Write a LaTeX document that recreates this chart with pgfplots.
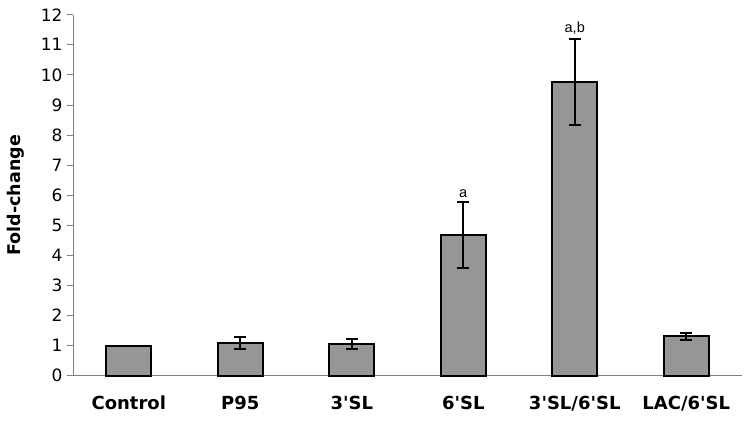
\documentclass[border=0pt]{standalone}
\usepackage{pgfplots}
\pgfplotsset{compat=1.18}
\usepackage{fontspec}
\setmainfont{DejaVu Sans}
\newfontfamily\arialfont{Liberation Sans}
\definecolor{barfill}{RGB}{150,150,150}
\definecolor{axgray}{RGB}{128,128,128}

\begin{document}
\begin{tikzpicture}
\useasboundingbox (-73pt,-47.3pt) rectangle (676pt,375.7pt);
\begin{axis}[
    scale only axis,
    width=669pt, height=361pt,
    xmin=-0.5, xmax=5.5,
    ymin=0, ymax=12,
    axis lines*=left,
    axis line style={axgray, line width=0.8pt},
    xtick={0,1,2,3,4,5},
    xticklabels={Control, P95, 3\textquotesingle SL, 6\textquotesingle SL, 3\textquotesingle SL/6\textquotesingle SL, LAC/6\textquotesingle SL},
    x tick style={draw=none},
    minor xtick={-0.5,0.5,1.5,2.5,3.5,4.5,5.5},
    minor x tick style={axgray, line width=0.8pt},
    minor tick length=6pt,
    ytick={0,1,2,3,4,5,6,7,8,9,10,11,12},
    y tick style={axgray, line width=0.8pt},
    tick align=outside,
    major tick length=6pt,
    /pgf/number format/assume math mode=true,
    yticklabel style={font=\fontsize{17}{17}\selectfont, xshift=-1pt},
    xticklabel style={font=\bfseries\fontsize{18}{18}\selectfont, yshift=-11pt},
    ylabel={Fold-change},
    ylabel style={font=\bfseries\fontsize{17.5}{17.5}\selectfont, at={(axis description cs:-0.0852,0.5)}, anchor=center},
    clip=false,
]
\addplot[ybar, bar width=0.4, fill=barfill, draw=black, line width=2pt]
    coordinates {(0,1.0) (1,1.1) (2,1.05) (3,4.67) (4,9.76) (5,1.31)};

\addplot[draw=none, mark=none,
    error bars/.cd, y dir=both, y explicit,
    error bar style={draw=black, line width=2pt},
    error mark options={draw=black, line width=2pt, mark size=6pt, rotate=90}]
    coordinates {
    (1,1.1) +- (0,0.2)
    (2,1.05) +- (0,0.165)
    (3,4.67) +- (0,1.09)
    (4,9.76) +- (0,1.43)
    (5,1.31) +- (0,0.115)
    };

\node[anchor=south, font=\arialfont\fontsize{14.5}{14.5}\selectfont, inner sep=1.5pt, yshift=3pt] at (axis cs:3,5.76) {a};
\node[anchor=south, font=\arialfont\fontsize{14.5}{14.5}\selectfont, inner sep=1.5pt, yshift=3pt] at (axis cs:4,11.19) {a,b};
\end{axis}
\end{tikzpicture}
\end{document}
